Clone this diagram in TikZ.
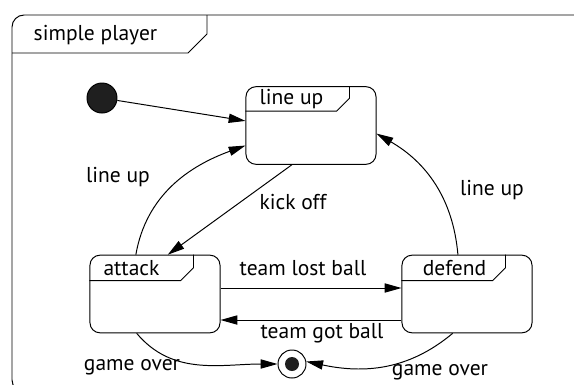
\documentclass[tikz,border=0pt]{standalone}
\usepackage{fontspec}
\setmainfont{PT Sans}
\usetikzlibrary{arrows.meta}

\tikzset{
  stbox/.style={draw,rounded corners=0.25cm,minimum width=3.25cm,minimum height=1.94cm},
  initst/.style={circle,draw,fill=black!88,minimum size=0.75cm,inner sep=0pt},
  finst/.style={circle,draw,minimum size=0.7cm,inner sep=0pt},
  findot/.style={circle,fill=black!88,minimum size=0.35cm,inner sep=0pt},
  txt/.style={inner sep=0pt,font=\fontsize{15.3}{18}\selectfont}
}

\begin{document}
\begin{tikzpicture}[x=0.025cm,y=-0.025cm,line width=0.7pt,>={Triangle[length=0.42cm,width=0.23cm]}]

  \clip (0,0) rectangle (574,384);

  % frame
  \draw[rounded corners=0.3cm] (12,15) rectangle (600,392);
  \draw (12,53) -- (188,53) -- (207,34) -- (207,15);
  \node[txt] (SiPl) at (95.5,35) {simple player};

  % states
  \node[initst] (Init) at (102,98) {};
  \node[stbox] (LiUp) at (311,125.5) {};
  \node[stbox] (At) at (155,294) {};
  \node[stbox] (De) at (467,294) {};
  \node[finst] (Fin) at (292,364) {};
  \node[findot] (FinDot) at (Fin) {};

  \draw (LiUp.north west) ++(0,25) -- ++(91,0) -- ++(13,-13) -- ++(0,-12);
  \draw (At.north west) ++(0,26) -- ++(91,0) -- ++(13,-13) -- ++(0,-13);
  \draw (De.north west) ++(0,26) -- ++(91,0) -- ++(13,-13) -- ++(0,-13);
  \node[txt] (LiUpT) at (291.5,99) {line up};
  \node[txt] (AtT) at (131.5,268) {attack};
  \node[txt] (DeT) at (454.5,268) {defend};

  % transitions
  \draw[->] (Init) -- (LiUp.176);
  \draw[->] (At.116) to[out=80,in=200] (LiUp.197);
  \node[txt] (LiUpA) at (118,177) {line up};
  \draw[->] (LiUp.244) -- (At.72);
  \node[txt] (KiOf) at (293,202) {kick off};
  \draw[->] (De.103) to[out=95,in=-30] (LiUp.353);
  \node[txt] (LiUpD) at (492,190) {line up};

  \draw[->] ([yshift=0.15cm]At.east) -- ([yshift=0.15cm]De.west);
  \node[txt] (TeLo) at (303,268) {team lost ball};
  \draw[->] ([yshift=-0.65cm]De.west) -- ([yshift=-0.65cm]At.east);
  \node[txt] (TeGo) at (322,333) {team got ball};

  \draw[->] (At.245) to[out=-50,in=180] (Fin.west);
  \node[txt] (GaOvA) at (132,367) {game over};
  \draw[->] (De.250) to[out=-140,in=-12] (Fin.10);
  \node[txt] (GaOvD) at (440,372) {game over};

\end{tikzpicture}
\end{document}
